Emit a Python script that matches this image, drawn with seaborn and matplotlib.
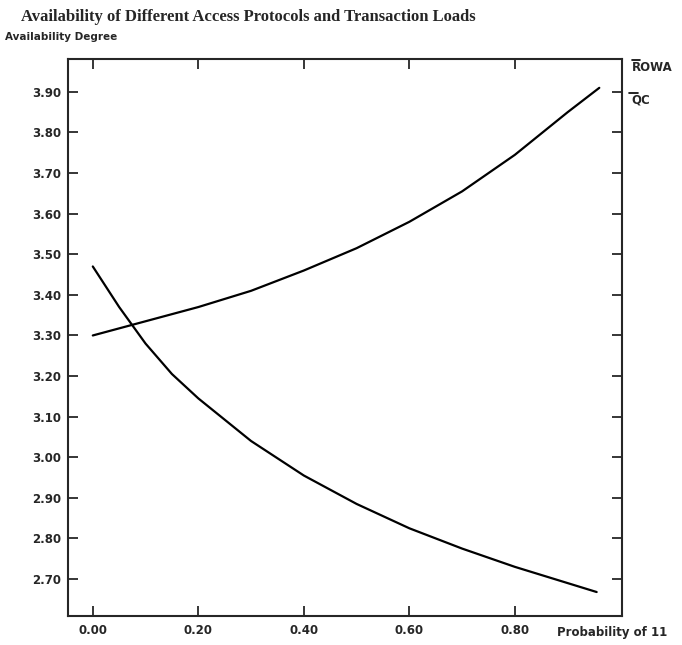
import seaborn as sns
import matplotlib.pyplot as plt
import pandas as pd

# values
rowa_x = [0.0, 0.1, 0.2, 0.3, 0.4, 0.5, 0.6, 0.7, 0.8, 0.9, 0.96]
rowa_y = [3.30, 3.335, 3.37, 3.41, 3.46, 3.515, 3.58, 3.655, 3.745, 3.85, 3.91]
qc_x = [0.0, 0.05, 0.1, 0.15, 0.2, 0.3, 0.4, 0.5, 0.6, 0.7, 0.8, 0.9, 0.955]
qc_y = [3.47, 3.37, 3.28, 3.205, 3.145, 3.04, 2.955, 2.885, 2.825, 2.775, 2.73, 2.69, 2.668]
x_ticks = [0.0, 0.2, 0.4, 0.6, 0.8]
y_ticks = [2.7, 2.8, 2.9, 3.0, 3.1, 3.2, 3.3, 3.4, 3.5, 3.6, 3.7, 3.8, 3.9]

df = pd.concat([
    pd.DataFrame({"p": rowa_x, "a": rowa_y, "proto": "ROWA"}),
    pd.DataFrame({"p": qc_x, "a": qc_y, "proto": "QC"}),
])

sns.set_style("ticks")
plt.rcParams['font.family'] = ['DejaVu Sans']

fig = plt.figure(figsize=(6.82, 6.45), dpi=100)
ax = fig.add_axes([0.0997, 0.045, 0.8123, 0.8635])

sns.lineplot(data=df, x="p", y="a", hue="proto", palette=["black", "black"],
             linewidth=1.6, legend=False, ax=ax, sort=False, estimator=None)

ax.set_xlim(-0.047, 1.003)
ax.set_ylim(2.609, 3.981)
ax.set_xticks(x_ticks)
ax.set_yticks(y_ticks)
ax.set_xticklabels(["%.2f" % v for v in x_ticks], fontweight="bold", fontsize=8.5)
ax.set_yticklabels(["%.2f" % v for v in y_ticks], fontweight="bold", fontsize=8.5)
ax.tick_params(direction="in", length=7, width=1.3, top=True, right=True, pad=6)
ax.tick_params(axis="y", pad=5)
for s in ax.spines.values():
    s.set_linewidth(1.5)
ax.set_xlabel("")
ax.set_ylabel("")

fig.text(0.031, 0.973, "Availability of Different Access Protocols and Transaction Loads",
         family="Liberation Serif", fontweight="bold", fontsize=12, va="center")
fig.text(0.007, 0.943, "Availability Degree", fontweight="bold", fontsize=7.5, va="center")
fig.text(0.817, 0.020, "Probability of 11", fontweight="bold", fontsize=8.5, va="center")

# line labels on the right
fig.text(0.926, 0.896, "ROWA", fontweight="bold", fontsize=8.5, va="center")
fig.text(0.926, 0.845, "QC", fontweight="bold", fontsize=8.5, va="center")
fig.add_artist(plt.Line2D([0.926, 0.939], [0.907, 0.907], color="black", lw=1.2))
fig.add_artist(plt.Line2D([0.922, 0.936], [0.856, 0.856], color="black", lw=1.2))

fig.savefig("out.png", dpi=100)
